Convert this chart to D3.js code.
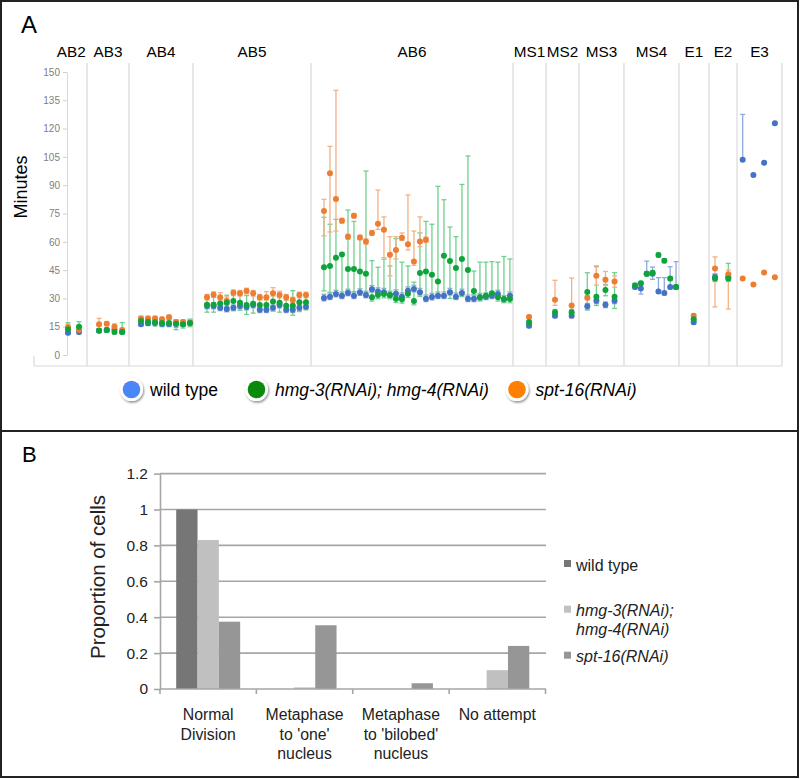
<!DOCTYPE html>
<html lang="en">
<head>
<meta charset="UTF-8">
<script src="https://cdn.jsdelivr.net/npm/d3@7"></script>
<title>Division timing</title>
<style>
  body { margin: 0; background: #fff; }
  svg { font-family: Arial, "Liberation Sans", sans-serif; }
</style>
</head>
<body>
<div id="my_chart"></div>
<script>
// ---- panel A data ----
var panelNames = ["AB2", "AB3", "AB4", "AB5", "AB6", "MS1", "MS2", "MS3", "MS4", "E1", "E2", "E3"];
// panel edges on the x data axis (0..100)
var panelEdges = [-1.6, 2.8, 8.67, 17.62, 34.13, 62.38, 66.99, 71.61, 77.9, 85.59, 89.79, 93.71, 100];
// x value of first cell in each panel, and spacing between cells
var cellStart = [0.14, 4.48, 10.35, 19.58, 35.94, 64.62, 68.25, 72.77, 79.44, 87.65, 90.63, 94.5];
var cellStep = [1.54, 1.08, 0.98, 0.923, 0.839, 0, 2.33, 1.27, 0.82, 0, 1.86, 1.5];
var minuteTicks = [0, 15, 30, 45, 60, 75, 90, 105, 120, 135, 150];

var wildType = [
  [11.8, 12.2],
  [13.0, 13.2, 13.5, 12.3],
  [16.3, 16.8, 17.0, 16.4, 16.4, 16.4, 16.3, 17.0],
  [26, 26, 25, 24.4, 25, 26, 25.4, 26.5, 24, 24, 25, 26.5, 24, 24, 25, 25.6],
  [30.2, 30.9, 32.3, 31.4, 32.9, 31.4, 33.1, 31.8, 34.8, 33.6, 33.3, 31.8, 32.5, 30.9, 34.1, 35,
   33.3, 29.8, 30.7, 31.4, 31.4, 33.3, 30.9, 32.9, 29.8, 29.8, 30.6, 30.9, 31.4, 32.3, 29.5, 31.4],
  [15.5],
  [20.8, 20.8],
  [25.8, 28.7, 26.6, 28.7],
  [36, 35.3, 43.1, 43.1, 33.7, 32.9, 36, 36],
  [17.3],
  [41.3, 41.3],
  [103.5, 95.4, 101.9, 122.9]
];
var wildTypeUp = [1, 1, 1.5, 1.5, 2, 1, 1, 1.5, [2, 3, 6.7, 3.5, 7.3, 8.1, 10.8, 13.5], 1, 1.5, [24, 0, 0, 0]];
var wildTypeDown = [1, 1, [1, 1, 1, 1, 1, 3, 1, 1], 1.5, 1.5, 1, 1, 1.5, [1, 3, 1, 3, 1, 1, 1, 1], 1, 1.5, 0];

var hmg = [
  [13.6, 15],
  [12.9, 13.2, 12.2, 12.2],
  [18, 17.6, 17.3, 17, 17, 16.6, 16.3, 17],
  [26.7, 26.7, 27.3, 27.7, 28.6, 27.7, 26.5, 27.2, 26.5, 26.5, 28.3, 27.7, 26.1, 26.1, 28, 28],
  [46.5, 47.2, 51.6, 53.3, 45.6, 45.6, 44.2, 43.1, 30.6, 31.8, 32.3, 31.8, 29.8, 29.5, 32.5, 28.6,
   43.5, 44.2, 42.5, 39, 52.6, 49.8, 46.1, 50.9, 45.1, 33.9, 30.6, 31.4, 32.7, 30.6, 29.7, 29.7],
  [17.3],
  [22.6, 22.6],
  [33.4, 30.9, 34.4, 30.9],
  [36.9, 38, 43.1, 43.6, 53, 50, 40.5, 36],
  [19],
  [40.6, 40.6],
  []
];
var hmgUp = [
  [3.5, 2.6], [1, 1, 1, 5], 2,
  [4, 4, 3, 4, 5, 4, 5, 5, 3, 3, 5, 5, 3, 8, 5, 4],
  [26.5, 22.1, 20.3, 1, 31.2, 25.2, 17.3, 54.4, 19.4, 14.7, 18.5, 15.4, 31.9, 19.7, 14.7, 10,
   21.2, 26.6, 26.8, 50.4, 29.7, 18, 16.6, 39.5, 60.4, 10.6, 18.6, 17.8, 16.8, 18.6, 22.5, 21.2],
  1, 1.5, [10.2, 15.9, 3, 12.7], 1, 1, [2.4, 8], 0
];
var hmgDown = [
  2, 1, 2,
  [4, 4, 3, 4, 5, 4, 5, 5, 3, 3, 5, 5, 3, 5, 5, 4],
  [12.5, 14, 18.6, 22, 11.6, 12, 11, 10, 2, 2, 2, 2, 2, 2, 2, 2,
   12.5, 14, 11.5, 7, 21.6, 19.8, 16, 19.9, 15, 2, 2, 2, 2, 2, 2, 2],
  1, 1.5, [9.6, 4.7, 3, 6.2], 1, 1, [1.6, 1.6], 0
];

var spt16 = [
  [14.7, 13.2],
  [16.3, 16.6, 15, 13.2],
  [19.4, 19.4, 19.4, 18.9, 20, 17.5, 17.5, 17.1],
  [30.6, 32, 30.6, 28.8, 33, 32.7, 33.9, 32.7, 30.6, 30.6, 32.7, 31.8, 30.6, 29.1, 31.8, 31.8],
  [76.3, 96.3, 82.7, 71.2, 62.7, 73.8, 62.3, 60.1, 64.7, 69.6, 66.4, 53.2, 55.6, 62.2, 58.7, 49.5, 60.1, 61.1],
  [20.1],
  [29.3, 26.3],
  [30.4, 42, 39.9, 38.9],
  [],
  [20.8],
  [45.9, 42.8],
  [40.5, 37.4, 43.7, 41.2]
];
var spt16Up = [
  1.5, [3.1, 1, 1.5, 1], 1.2,
  [1.5, 1.5, 2.5, 2, 1.5, 1.5, 1.5, 1.5, 1.5, 3, 3, 2, 1.5, 1.5, 1.5, 1.5],
  [6.2, 14.3, 57.6, 1.3, 1.3, 1.2, 1.2, 1.4, 1.3, 17.8, 6.8, 9.5, 7.1, 2.5, 26.1, 16.2, 13.1, 1.4],
  1, [10.3, 14.5], [1, 5.3, 4.4, 3.1], 0, 1, [6.1, 2.2], 0
];
var spt16Down = [
  1.5, 1, 1.2, 1.5,
  [13.1, 31.1, 17, 1.3, 1.3, 1.2, 1.2, 1.4, 1.3, 3, 14.8, 11.2, 4.7, 1.5, 3, 2, 2.7, 1.4],
  1, [3, 6], [1, 5, 3, 3], 0, 1, [20.4, 18.4], 0
];

var seriesA = [
  { name: "wild type", vals: wildType, up: wildTypeUp, down: wildTypeDown, dot: "#4472c4", bar: "#8faadc", key: "#4a86f5", italic: false },
  { name: "hmg-3(RNAi); hmg-4(RNAi)", vals: hmg, up: hmgUp, down: hmgDown, dot: "#0fa33c", bar: "#6fd08f", key: "#0a8a0a", italic: true },
  { name: "spt-16(RNAi)", vals: spt16, up: spt16Up, down: spt16Down, dot: "#ed7d31", bar: "#f4b183", key: "#ff8000", italic: true }
];

// ---- panel B data ----
var fateCategories = [["Normal", "Division"], ["Metaphase", "to 'one'", "nucleus"], ["Metaphase", "to 'bilobed'", "nucleus"], ["No attempt"]];
var fateWildType = [1, 0, 0, 0];
var fateHmg = [0.83, 0.009, 0, 0.105];
var fateSpt16 = [0.375, 0.355, 0.032, 0.24];
var proportionTicks = [0, 0.2, 0.4, 0.6, 0.8, 1, 1.2];

var svg = d3.select("#my_chart")
  .append("svg")
  .attr("width", 800)
  .attr("height", 779);

// frame
svg.append("rect").attr("x", 1).attr("y", 1).attr("width", 797).attr("height", 776)
  .attr("fill", "none").attr("stroke", "#222").attr("stroke-width", 2);
svg.append("line").attr("x1", 1).attr("x2", 798).attr("y1", 431).attr("y2", 431)
  .attr("stroke", "#222").attr("stroke-width", 2);

// shadow for legend keys
var defs = svg.append("defs");
defs.append("filter").attr("id", "shadow").attr("x", "-50%").attr("y", "-50%").attr("width", "200%").attr("height", "200%")
  .append("feDropShadow").attr("dx", 1).attr("dy", 1.5).attr("stdDeviation", 1.3).attr("flood-opacity", 0.45);

// ================= Panel A =================
var x = d3.scaleLinear().domain([0, 100]).range([67, 782]);
var y = d3.scaleLinear().domain([0, 150]).range([355, 72]);

svg.append("text").attr("x", 21).attr("y", 33).attr("font-size", 24).text("A");

// panel separators
svg.append("g").selectAll("line")
  .data(panelEdges.slice(1))
  .enter().append("line")
  .attr("x1", d => x(d)).attr("x2", d => x(d))
  .attr("y1", 63).attr("y2", 366)
  .attr("stroke", "#d9d9d9").attr("stroke-width", 1.2);
svg.append("line").attr("x1", 34).attr("x2", x(100)).attr("y1", 366).attr("y2", 366)
  .attr("stroke", "#d9d9d9").attr("stroke-width", 1.2);
svg.append("line").attr("x1", 34).attr("x2", 34).attr("y1", 356).attr("y2", 366)
  .attr("stroke", "#d9d9d9").attr("stroke-width", 1.2);

// panel names
svg.append("g").selectAll("text")
  .data(panelNames)
  .enter().append("text")
  .attr("x", (d, i) => x((panelEdges[i] + panelEdges[i + 1]) / 2))
  .attr("y", 57)
  .attr("text-anchor", "middle")
  .attr("font-size", 15.3)
  .text(d => d);

// y axis
var yAxis = svg.append("g")
  .attr("transform", "translate(" + x(0) + ",0)")
  .call(d3.axisLeft(y).tickValues(minuteTicks).tickSize(4).tickSizeOuter(0));
yAxis.select(".domain").attr("stroke", "#d9d9d9");
yAxis.selectAll(".tick line").attr("stroke", "#d0d0d0");
yAxis.selectAll(".tick text").attr("fill", "#808080").attr("font-size", 10).attr("font-family", "Arial, 'Liberation Sans', sans-serif");

svg.append("text")
  .attr("transform", "translate(26.5,187) rotate(-90)")
  .attr("text-anchor", "middle")
  .attr("font-size", 18)
  .text("Minutes");

function pick(arr, p, i) {
  var e = arr[p];
  return Array.isArray(e) ? e[i] : e;
}

// flatten points
var points = [];
seriesA.forEach(function (s, si) {
  s.vals.forEach(function (list, p) {
    list.forEach(function (v, i) {
      points.push({
        s: si, x: cellStart[p] + cellStep[p] * i, v: v,
        hi: v + pick(s.up, p, i), lo: v - pick(s.down, p, i)
      });
    });
  });
});

// error bars
var errG = svg.append("g");
var bars = errG.selectAll("g.err").data(points).enter().append("g")
  .attr("stroke", d => seriesA[d.s].bar).attr("stroke-width", 1.3);
bars.append("line")
  .attr("x1", d => x(d.x)).attr("x2", d => x(d.x))
  .attr("y1", d => y(d.hi)).attr("y2", d => y(d.lo));
bars.filter(d => d.hi > d.v).append("line")
  .attr("x1", d => x(d.x) - 2.5).attr("x2", d => x(d.x) + 2.5)
  .attr("y1", d => y(d.hi)).attr("y2", d => y(d.hi));
bars.filter(d => d.lo < d.v).append("line")
  .attr("x1", d => x(d.x) - 2.5).attr("x2", d => x(d.x) + 2.5)
  .attr("y1", d => y(d.lo)).attr("y2", d => y(d.lo));

// dots: wild type, then spt-16, then hmg on top
var dotOrder = [0, 2, 1];
dotOrder.forEach(function (si) {
  svg.append("g").selectAll("circle")
    .data(points.filter(d => d.s === si))
    .enter().append("circle")
    .attr("cx", d => x(d.x))
    .attr("cy", d => y(d.v))
    .attr("r", 3)
    .attr("fill", seriesA[si].dot);
});

// legend A
var legendA = svg.append("g");
var legendX = [131.5, 256.5, 517];
seriesA.forEach(function (s, i) {
  legendA.append("circle").attr("cx", legendX[i]).attr("cy", 389.5).attr("r", 11.5)
    .attr("fill", "#fff").attr("filter", "url(#shadow)");
  legendA.append("circle").attr("cx", legendX[i]).attr("cy", 389.5).attr("r", 8.8)
    .attr("fill", s.key);
  legendA.append("text").attr("x", legendX[i] + 18.5).attr("y", 395.5)
    .attr("font-size", 17.5)
    .attr("font-style", s.italic ? "italic" : "normal")
    .text(s.name);
});

// ================= Panel B =================
svg.append("text").attr("x", 22).attr("y", 462).attr("font-size", 22).text("B");

var seriesB = [
  { name: ["wild type"], vals: fateWildType, color: "#767676", italic: false },
  { name: ["hmg-3(RNAi);", "hmg-4(RNAi)"], vals: fateHmg, color: "#c0c0c0", italic: true },
  { name: ["spt-16(RNAi)"], vals: fateSpt16, color: "#969696", italic: true }
];

var xB = d3.scaleBand().domain(d3.range(fateCategories.length)).range([160, 545.5]).padding(0);
var xB1 = d3.scaleBand().domain(d3.range(seriesB.length)).range([0, xB.bandwidth()])
  .paddingInner(0).paddingOuter(0.76);
var yB = d3.scaleLinear().domain([0, 1.2]).range([689, 473.6]);

// gridlines
svg.append("g").selectAll("line")
  .data(proportionTicks.slice(1))
  .enter().append("line")
  .attr("x1", 160).attr("x2", 546)
  .attr("y1", d => yB(d)).attr("y2", d => yB(d))
  .attr("stroke", "#a6a6a6").attr("stroke-width", 1.6);

// bars
seriesB.forEach(function (s, si) {
  svg.append("g").selectAll("rect")
    .data(s.vals)
    .enter().append("rect")
    .attr("x", (d, i) => xB(i) + xB1(si))
    .attr("width", xB1.bandwidth())
    .attr("y", d => yB(d))
    .attr("height", d => yB(0) - yB(d))
    .attr("fill", s.color);
});

// y axis B
var yAxisB = svg.append("g")
  .attr("transform", "translate(160,0)")
  .call(d3.axisLeft(yB).tickValues(proportionTicks).tickSize(6).tickSizeOuter(0).tickFormat(d3.format("~g")));
yAxisB.select(".domain").attr("stroke", "#a6a6a6").attr("stroke-width", 1.6);
yAxisB.selectAll(".tick line").attr("stroke", "#a6a6a6").attr("stroke-width", 1.6);
yAxisB.selectAll(".tick text").attr("fill", "#222").attr("font-size", 15.5).attr("x", -12)
  .attr("font-family", "Arial, 'Liberation Sans', sans-serif");

// x axis B
svg.append("line").attr("x1", 160).attr("x2", 546).attr("y1", yB(0)).attr("y2", yB(0))
  .attr("stroke", "#a6a6a6").attr("stroke-width", 1.6);
svg.append("g").selectAll("line")
  .data(d3.range(fateCategories.length + 1))
  .enter().append("line")
  .attr("x1", d => 160 + d * xB.step()).attr("x2", d => 160 + d * xB.step())
  .attr("y1", yB(0)).attr("y2", yB(0) + 5)
  .attr("stroke", "#a6a6a6").attr("stroke-width", 1.6);

svg.append("g").selectAll("text")
  .data(fateCategories)
  .enter().append("text")
  .attr("text-anchor", "middle")
  .attr("font-size", 15.8)
  .attr("fill", "#222")
  .each(function (lines, i) {
    var t = d3.select(this);
    lines.forEach(function (line, k) {
      t.append("tspan").attr("x", xB(i) + xB.bandwidth() / 2).attr("y", 720 + k * 19.5).text(line);
    });
  });

svg.append("text")
  .attr("transform", "translate(105,577) rotate(-90)")
  .attr("text-anchor", "middle")
  .attr("font-size", 20.5)
  .attr("fill", "#222")
  .text("Proportion of cells");

// legend B
var legendYB = [560, 605.7, 651.7];
seriesB.forEach(function (s, i) {
  svg.append("rect").attr("x", 564).attr("y", legendYB[i]).attr("width", 7).attr("height", 7).attr("fill", s.color);
  var t = svg.append("text").attr("font-size", 16).attr("fill", "#222")
    .attr("font-style", s.italic ? "italic" : "normal");
  s.name.forEach(function (line, k) {
    t.append("tspan").attr("x", 576).attr("y", legendYB[i] + 10.7 + k * 19).text(line);
  });
});
</script>
</body>
</html>
